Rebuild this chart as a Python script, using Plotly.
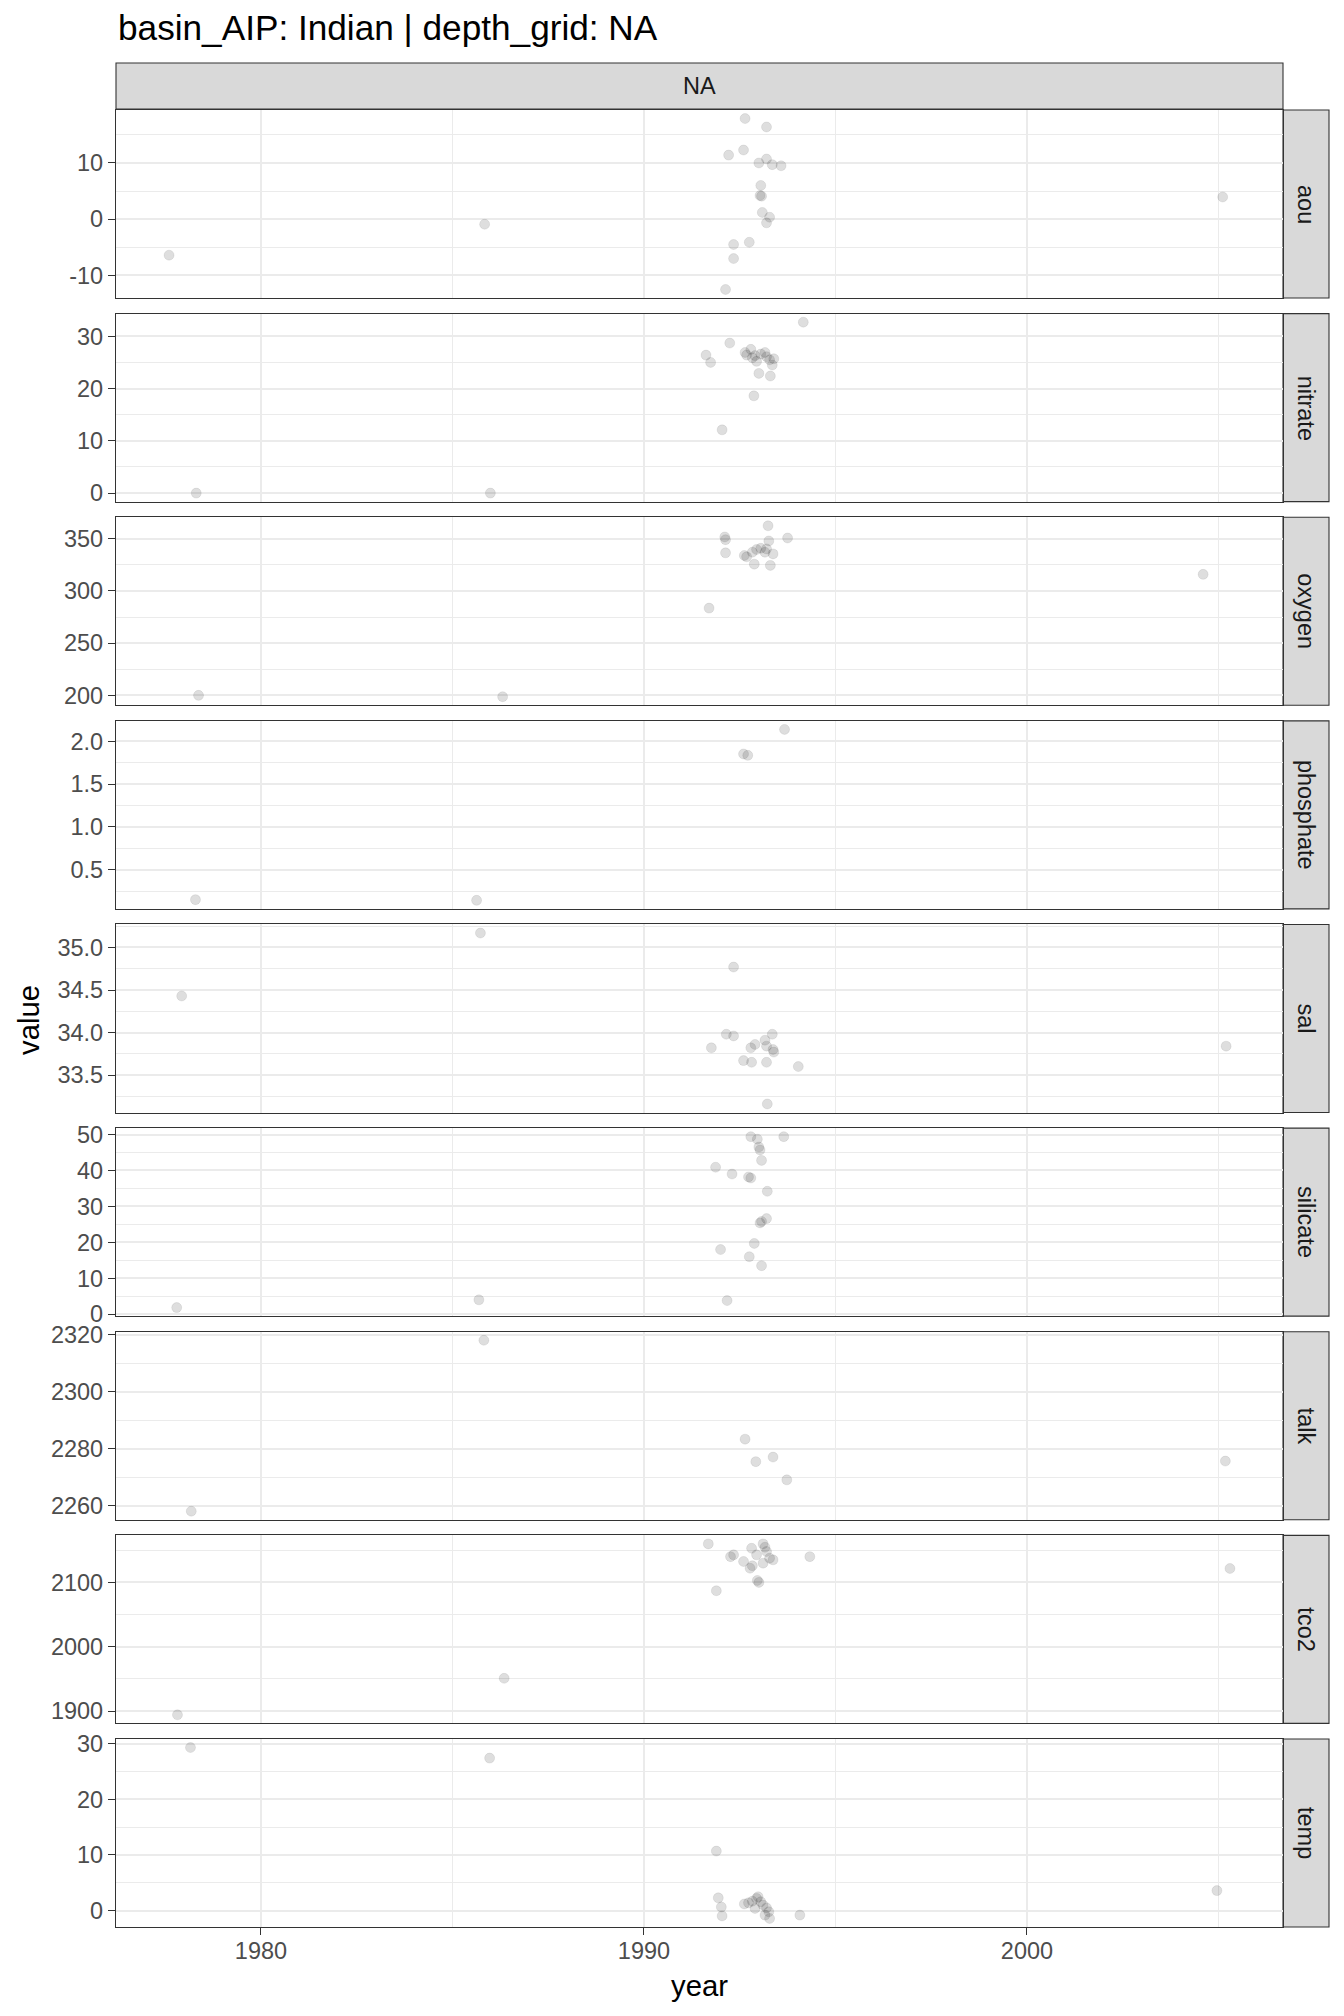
import plotly.graph_objects as go

# ---------------- data ----------------
panel_names = ["aou", "nitrate", "oxygen", "phosphate", "sal", "silicate", "talk", "tco2", "temp"]

aou_year = [1977.6, 1985.84, 1992.64, 1993.2, 1992.6, 1992.21, 1993.2, 1993.0, 1993.35, 1993.58,
            1993.05, 1993.03, 1993.07, 1993.09, 1993.28, 1993.2, 1992.75, 1992.34, 1992.34, 1992.13, 2005.11]
aou_value = [-6.4, -0.9, 17.9, 16.4, 12.3, 11.4, 10.7, 10.0, 9.7, 9.5,
             6.0, 4.2, 4.1, 1.2, 0.35, -0.65, -4.1, -4.5, -7.0, -12.5, 3.95]

nitrate_year = [1978.31, 1985.99, 1994.16, 1992.24, 1991.62, 1991.74, 1992.68, 1992.79, 1992.83, 1992.94,
                1993.05, 1993.16, 1993.2, 1993.28, 1993.35, 1993.39, 1992.9, 1992.64, 1993.0, 1993.3,
                1992.87, 1992.04]
nitrate_value = [0.0, 0.0, 32.7, 28.7, 26.4, 25.0, 26.4, 27.5, 25.9, 25.2,
                 26.6, 26.9, 26.1, 25.5, 24.5, 25.7, 26.3, 26.9, 22.9, 22.4,
                 18.6, 12.1]

oxygen_year = [1978.37, 1986.31, 1993.24, 1992.11, 1992.13, 1993.75, 1993.26, 1992.13, 1992.62, 1992.68,
               1992.83, 1992.94, 1993.05, 1993.16, 1993.2, 1993.37, 1992.88, 1993.3, 1991.7, 2004.6]
oxygen_value = [200.0, 198.7, 362.3, 351.6, 349.0, 350.6, 347.8, 336.4, 333.9, 332.6,
                337.0, 339.6, 340.8, 337.0, 340.2, 335.4, 325.6, 324.4, 283.5, 315.8]

phosphate_year = [1978.29, 1985.63, 1993.67, 1992.6, 1992.71]
phosphate_value = [0.151, 0.143, 2.14, 1.853, 1.837]

sal_year = [1977.93, 1985.73, 1992.34, 1992.15, 1992.34, 1993.35, 1991.76, 1992.79, 1992.9, 1993.16,
            1993.2, 1993.37, 1993.39, 1992.6, 1992.81, 1993.2, 1994.03, 1993.22, 2005.2]
sal_value = [34.43, 35.17, 34.77, 33.98, 33.96, 33.98, 33.82, 33.82, 33.86, 33.91,
             33.84, 33.80, 33.77, 33.67, 33.65, 33.65, 33.60, 33.16, 33.84]

silicate_year = [1977.8, 1985.69, 1992.17, 1992.79, 1993.65, 1992.96, 1993.0, 1993.03, 1993.07, 1991.87,
                 1992.3, 1992.73, 1992.79, 1993.22, 1993.2, 1993.07, 1993.03, 1992.88, 1992.0, 1992.75,
                 1993.07]
silicate_value = [1.85, 4.0, 3.8, 49.4, 49.4, 48.7, 46.5, 45.7, 42.8, 40.9,
                  39.0, 38.2, 37.9, 34.2, 26.6, 25.8, 25.4, 19.7, 18.0, 16.0,
                  13.5]

talk_year = [1978.18, 1985.82, 1992.64, 1992.92, 1993.37, 1993.73, 2005.18]
talk_value = [2258.0, 2318.0, 2283.3, 2275.4, 2277.0, 2269.0, 2275.6]

tco2_year = [1977.82, 1986.35, 1991.68, 1993.11, 1992.81, 1993.16, 1993.2, 1992.26, 1992.34, 1994.33,
             1992.94, 1992.6, 1992.83, 1992.77, 1993.11, 1993.28, 1993.37, 1992.96, 1993.0, 1991.89,
             2005.3]
tco2_value = [1894.3, 1951.0, 2159.8, 2159.8, 2153.0, 2154.6, 2148.0, 2140.0, 2142.8, 2140.0,
              2142.8, 2132.5, 2125.8, 2122.0, 2129.9, 2137.6, 2135.0, 2103.0, 2100.0, 2087.0,
              2121.6]

temp_year = [1978.16, 1985.97, 1991.89, 1991.94, 1992.02, 1992.04, 1992.62, 1992.73, 1992.83, 1992.94,
             1992.98, 1993.05, 1992.9, 1993.11, 1993.2, 1993.26, 1993.16, 1993.28, 1994.07, 2004.96]
temp_value = [29.3, 27.4, 10.7, 2.3, 0.65, -0.95, 1.2, 1.4, 1.7, 2.2,
              2.5, 1.6, 0.4, 1.0, 0.5, -0.2, -0.8, -1.4, -0.8, 3.6]

# y tick labels per panel
aou_ticks = [-10, 0, 10]
nitrate_ticks = [0, 10, 20, 30]
oxygen_ticks = [200, 250, 300, 350]
phosphate_ticks = [0.5, 1.0, 1.5, 2.0]
phosphate_ticktext = ["0.5", "1.0", "1.5", "2.0"]
sal_ticks = [33.5, 34.0, 34.5, 35.0]
sal_ticktext = ["33.5", "34.0", "34.5", "35.0"]
silicate_ticks = [0, 10, 20, 30, 40, 50]
talk_ticks = [2260, 2280, 2300, 2320]
tco2_ticks = [1900, 2000, 2100]
temp_ticks = [0, 10, 20, 30]

x_ticks = [1980, 1990, 2000]
x_ticktext = ["1980", "1990", "2000"]

title_text = "basin_AIP: Indian | depth_grid: NA"
top_strip_text = "NA"
x_title = "year"
y_title = "value"

panels = [
    (aou_year, aou_value, aou_ticks, [str(t) for t in aou_ticks]),
    (nitrate_year, nitrate_value, nitrate_ticks, [str(t) for t in nitrate_ticks]),
    (oxygen_year, oxygen_value, oxygen_ticks, [str(t) for t in oxygen_ticks]),
    (phosphate_year, phosphate_value, phosphate_ticks, phosphate_ticktext),
    (sal_year, sal_value, sal_ticks, sal_ticktext),
    (silicate_year, silicate_value, silicate_ticks, [str(t) for t in silicate_ticks]),
    (talk_year, talk_value, talk_ticks, [str(t) for t in talk_ticks]),
    (tco2_year, tco2_value, tco2_ticks, [str(t) for t in tco2_ticks]),
    (temp_year, temp_value, temp_ticks, [str(t) for t in temp_ticks]),
]

# ---------------- layout geometry ----------------
OFF = 8                      # default body margin of the html page
W, H = 1344 - OFF, 2016 - 2 * OFF
# page-pixel positions from the reference, converted to figure pixels
L, R, T, B = 116 - OFF, 1283 - OFF, 110 - OFF, 1927 - OFF
PW, PH = R - L, B - T
n = len(panels)
gap = 15.6
ph = (PH - gap * (n - 1)) / n

FONT = "Liberation Sans, Arial, sans-serif"
GRID = "#EBEBEB"
DARK = "#333333"

def py(Ypage):  # page y -> paper
    return (B - (Ypage - OFF)) / PH

def px(Xpage):
    return ((Xpage - OFF) - L) / PW

def expand(vals):
    lo, hi = min(vals), max(vals)
    s = hi - lo
    return [lo - 0.05 * s, hi + 0.05 * s]

all_years = [y for p in panels for y in p[0]]
xr = expand(all_years)
x_minor = [x_ticks[0] - 5 + 10 * k for k in range(0, 5)]
x_minor = [v for v in x_minor if xr[0] <= v <= xr[1] and v not in x_ticks]

fig = go.Figure()
shapes = []
annotations = []

for i, (yrs, vals, ticks, ttext) in enumerate(panels):
    k = i + 1
    top = T + i * (ph + gap)
    bot = top + ph
    dom = [(B - bot) / PH, (B - top) / PH]
    xa = "x" if k == 1 else f"x{k}"
    ya = "y" if k == 1 else f"y{k}"
    fig.add_trace(go.Scatter(
        x=yrs, y=vals, mode="markers", xaxis=xa, yaxis=ya,
        marker=dict(size=10, color="rgba(0,0,0,0.13)",
                    line=dict(width=0.8, color="rgba(0,0,0,0.09)")),
        showlegend=False, hoverinfo="x+y"))
    yr = expand(vals)
    step = ticks[1] - ticks[0]
    ymin = [ticks[0] - step / 2 + step * j for j in range(len(ticks) + 1)]
    ymin = [v for v in ymin if yr[0] <= v <= yr[1]]
    last = (k == n)
    xaxis = dict(
        domain=[0, 1], anchor=ya, range=xr,
        tickvals=x_ticks, ticktext=x_ticktext,
        showticklabels=last, ticks="outside" if last else "",
        ticklen=7, tickwidth=1.4, tickcolor=DARK,
        tickfont=dict(family=FONT, size=23.5, color="#4D4D4D"),
        showgrid=True, gridcolor=GRID, gridwidth=2.2,
        minor=dict(tickvals=x_minor, showgrid=True, gridcolor=GRID, gridwidth=1.1, ticks=""),
        zeroline=False, showline=True, mirror=True, linecolor=DARK, linewidth=1.2,
    )
    if last:
        xaxis["ticklabelstandoff"] = -4
    if k > 1:
        xaxis["matches"] = "x"
    yaxis = dict(
        domain=dom, anchor=xa, range=yr,
        tickvals=ticks, ticktext=ttext,
        ticks="outside", ticklen=7, tickwidth=1.4, tickcolor=DARK,
        tickfont=dict(family=FONT, size=23.5, color="#4D4D4D"),
        showgrid=True, gridcolor=GRID, gridwidth=2.2,
        minor=dict(tickvals=ymin, showgrid=True, gridcolor=GRID, gridwidth=1.1, ticks=""),
        zeroline=False, showline=True, mirror=True, linecolor=DARK, linewidth=1.2,
    )
    fig.update_layout(**{("xaxis" if k == 1 else f"xaxis{k}"): xaxis,
                         ("yaxis" if k == 1 else f"yaxis{k}"): yaxis})
    # right strip
    shapes.append(dict(type="rect", xref="paper", yref="paper",
                       x0=1.0, x1=px(1329), y0=dom[0], y1=dom[1],
                       fillcolor="#D9D9D9", line=dict(color=DARK, width=1.1), layer="below"))
    annotations.append(dict(text=panel_names[i], xref="paper", yref="paper",
                            x=px(1306), y=(dom[0] + dom[1]) / 2, showarrow=False,
                            textangle=90, xanchor="center", yanchor="middle",
                            font=dict(family=FONT, size=23.5, color="#1A1A1A")))

# top strip
shapes.append(dict(type="rect", xref="paper", yref="paper",
                   x0=0, x1=1, y0=py(109), y1=py(63),
                   fillcolor="#D9D9D9", line=dict(color=DARK, width=1.1), layer="below"))
annotations.append(dict(text=top_strip_text, xref="paper", yref="paper",
                        x=0.5, y=py(86), showarrow=False, xanchor="center", yanchor="middle",
                        font=dict(family=FONT, size=23.5, color="#1A1A1A")))
# title
annotations.append(dict(text=title_text, xref="paper", yref="paper",
                        x=px(116), y=py(28), showarrow=False, xanchor="left", yanchor="middle",
                        font=dict(family=FONT, size=35.2, color="#000000")))
# axis titles
annotations.append(dict(text=x_title, xref="paper", yref="paper",
                        x=0.5, y=py(1985), showarrow=False, xanchor="center", yanchor="middle",
                        font=dict(family=FONT, size=29.3, color="#000000")))
annotations.append(dict(text=y_title, xref="paper", yref="paper",
                        x=px(28), y=py(1020), showarrow=False, xanchor="center", yanchor="middle",
                        textangle=-90,
                        font=dict(family=FONT, size=29.3, color="#000000")))

fig.update_layout(
    width=W, height=H,
    margin=dict(l=L, r=W - R, t=T, b=H - B, pad=0),
    paper_bgcolor="white", plot_bgcolor="white",
    shapes=shapes, annotations=annotations,
    font=dict(family=FONT),
    showlegend=False,
)

fig.write_html("out.html")
